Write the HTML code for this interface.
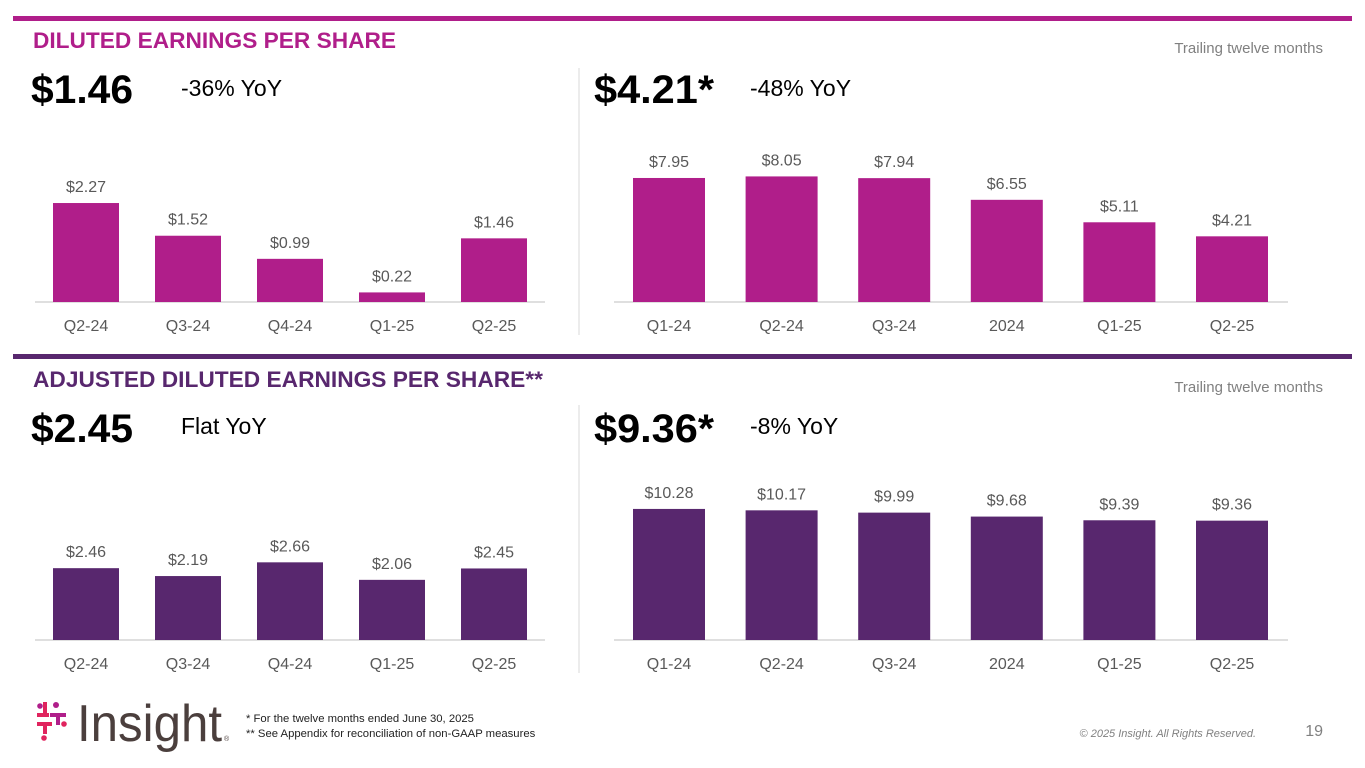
<!DOCTYPE html>
<html><head><meta charset="utf-8"><style>
body{margin:0;width:1365px;height:768px;background:#fff;overflow:hidden;font-family:"Liberation Sans",Arial,sans-serif}
svg{display:block}
</style></head><body>
<svg id="s" width="1365" height="768" viewBox="0 0 1365 768">
<rect x="13" y="16" width="1339" height="5" fill="#B01E8A"/>
<rect x="13" y="354" width="1339" height="5" fill="#58276E"/>
<text x="33" y="48" font-size="22.5" font-weight="bold" fill="#B01E8A" textLength="363" lengthAdjust="spacingAndGlyphs">DILUTED EARNINGS PER SHARE</text>
<text x="33" y="387" font-size="22.5" font-weight="bold" fill="#58276E" textLength="510" lengthAdjust="spacingAndGlyphs">ADJUSTED DILUTED EARNINGS PER SHARE**</text>
<text x="1323" y="53" font-size="15" fill="#808080" text-anchor="end">Trailing twelve months</text>
<text x="1323" y="392" font-size="15" fill="#808080" text-anchor="end">Trailing twelve months</text>
<text x="31" y="103" font-size="40" font-weight="bold" fill="#000" textLength="102" lengthAdjust="spacingAndGlyphs">$1.46</text>
<text x="181" y="96" font-size="23" fill="#000">-36% YoY</text>
<text x="594" y="103" font-size="40" font-weight="bold" fill="#000" textLength="120" lengthAdjust="spacingAndGlyphs">$4.21*</text>
<text x="750" y="96" font-size="23" fill="#000">-48% YoY</text>
<text x="31" y="442" font-size="40" font-weight="bold" fill="#000" textLength="102" lengthAdjust="spacingAndGlyphs">$2.45</text>
<text x="181" y="434" font-size="23" fill="#000">Flat YoY</text>
<text x="594" y="442" font-size="40" font-weight="bold" fill="#000" textLength="120" lengthAdjust="spacingAndGlyphs">$9.36*</text>
<text x="750" y="434" font-size="23" fill="#000">-8% YoY</text>
<line x1="579" y1="68" x2="579" y2="335" stroke="#d9d9d9" stroke-width="1"/>
<line x1="579" y1="405" x2="579" y2="673" stroke="#d9d9d9" stroke-width="1"/>
<g>
<rect x="37" y="713" width="12" height="4" fill="#E0245E"/><rect x="43" y="702" width="4" height="12" fill="#E0245E"/>
<circle cx="56" cy="705" r="3" fill="#B01E8A"/><circle cx="40" cy="706" r="2.8" fill="#B01E8A"/>
<rect x="50" y="713" width="16" height="4" fill="#B01E8A"/><rect x="56" y="713" width="4" height="12" fill="#B01E8A"/>
<rect x="37" y="722" width="15" height="4" fill="#E0245E"/><rect x="43" y="722" width="4" height="12" fill="#E0245E"/>
<circle cx="64" cy="724" r="2.8" fill="#E0245E"/><circle cx="44" cy="738" r="2.8" fill="#E0245E"/>
<text x="77" y="741" font-size="52" fill="#4B3F3D" textLength="145" lengthAdjust="spacingAndGlyphs">Insight</text>
<text x="224" y="741" font-size="7" fill="#4B3F3D">®</text>
</g>
<text x="246" y="722" font-size="11.3" fill="#222">* For the twelve months ended June 30, 2025</text>
<text x="246" y="737" font-size="11.3" fill="#222">** See Appendix for reconciliation of non-GAAP measures</text>
<text x="1256" y="737" font-size="11" font-style="italic" fill="#808080" text-anchor="end">© 2025 Insight. All Rights Reserved.</text>
<text x="1323" y="736" font-size="16" fill="#808080" text-anchor="end">19</text>
</svg>
<script>
const catsQ=["Q2-24","Q3-24","Q4-24","Q1-25","Q2-25"];
const catsT=["Q1-24","Q2-24","Q3-24","2024","Q1-25","Q2-25"];
const epsQ=[2.27,1.52,0.99,0.22,1.46];
const epsT=[7.95,8.05,7.94,6.55,5.11,4.21];
const adjQ=[2.46,2.19,2.66,2.06,2.45];
const adjT=[10.28,10.17,9.99,9.68,9.39,9.36];
const NS="http://www.w3.org/2000/svg";
const svg=document.getElementById('s');
function el(t,a){const e=document.createElementNS(NS,t);for(const k in a)e.setAttribute(k,a[k]);svg.appendChild(e);return e;}
function chart(name,cats,vals,x0,step,bw,base,scale,color,axL,axR){
  const ax=el('line',{x1:axL,y1:base,x2:axR,y2:base,stroke:'#bfbfbf','stroke-width':1});
  
  
  const yS=v=>base-v*scale;
  cats.forEach((c,i)=>{
    const cx=x0+i*step, y=yS(vals[i]);
    const r=el('rect',{x:cx-bw/2,y:y,width:bw,height:base-y,fill:color});
    
    
    const t=el('text',{x:cx,y:y-11,'font-size':16,fill:'#595959','text-anchor':'middle'});
    t.textContent='$'+vals[i].toFixed(2);
    
    
    const l=el('text',{x:cx,y:base+29,'font-size':16,fill:'#595959','text-anchor':'middle'});
    l.textContent=c;
    
    
  });
}
chart('eps-quarter',catsQ,epsQ,86,102,66,302,43.6,'#B01E8A',35,545);
chart('eps-ttm',catsT,epsT,669,112.6,72,302,15.6,'#B01E8A',614,1288);
chart('adj-eps-quarter',catsQ,adjQ,86,102,66,640,29.2,'#58276E',35,545);
chart('adj-eps-ttm',catsT,adjT,669,112.6,72,640,12.75,'#58276E',614,1288);
</script>
</body></html>
